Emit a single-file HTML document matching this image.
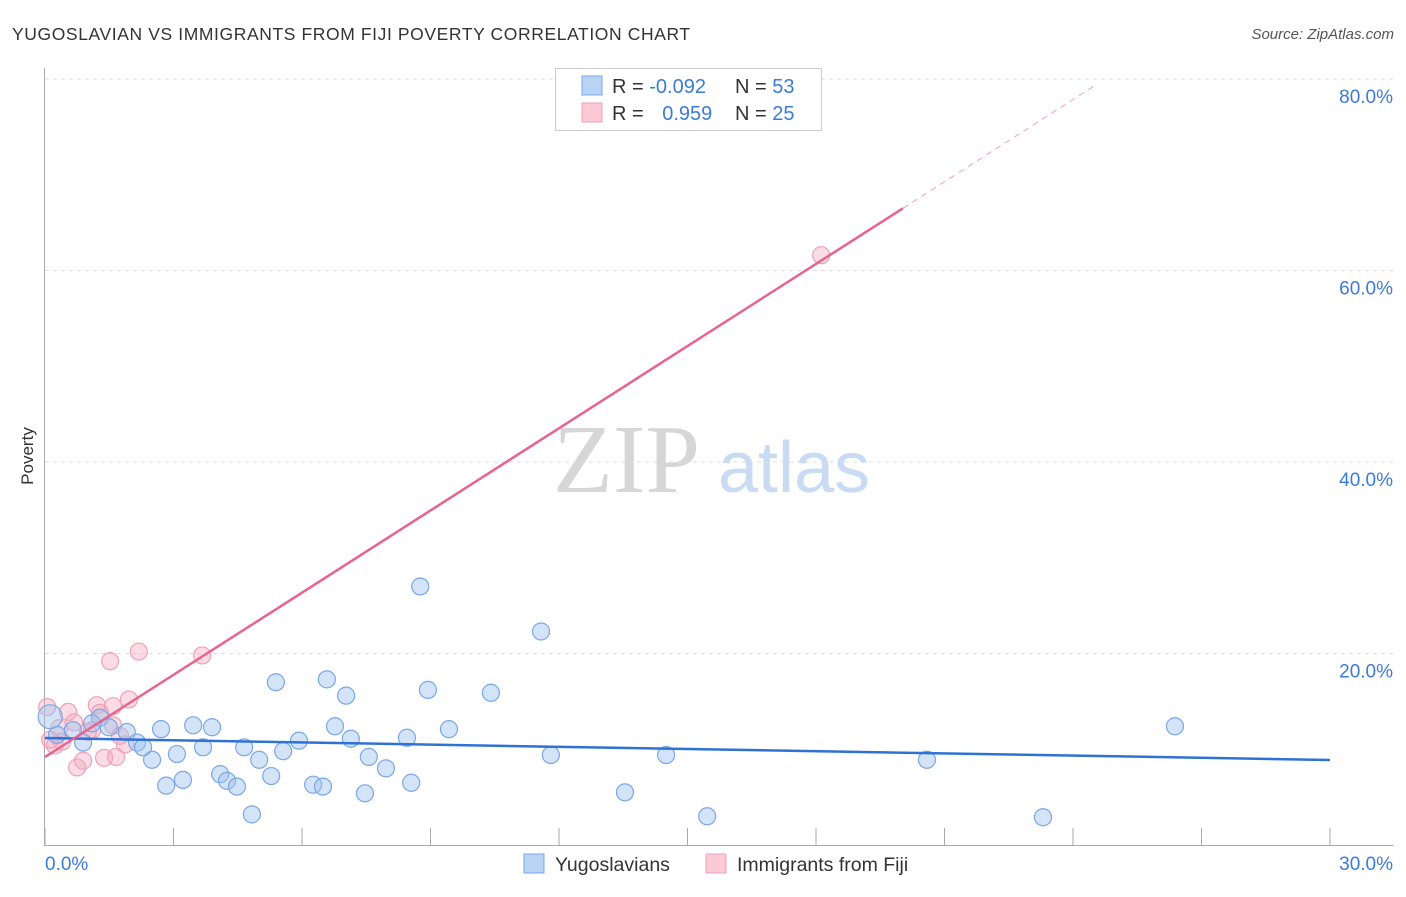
<!DOCTYPE html>
<html><head><meta charset="utf-8"><style>
body{margin:0;background:#fff;font-family:"Liberation Sans",sans-serif;}
svg text{font-family:"Liberation Sans",sans-serif;}
</style></head><body>
<svg id="chart" width="1406" height="892">
<text x="12" y="40" font-size="17.5" fill="#333" letter-spacing="0.6">YUGOSLAVIAN VS IMMIGRANTS FROM FIJI POVERTY CORRELATION CHART</text>
<text x="1394" y="39" font-size="15" fill="#555" text-anchor="end" font-style="italic">Source: ZipAtlas.com</text>
<text x="0" y="0" font-size="17" fill="#333" transform="translate(33,456) rotate(-90)" text-anchor="middle">Poverty</text>
<g>
<text x="553" y="492" font-size="98" fill="#d6d6d6" font-family="Liberation Serif" style="font-family:'Liberation Serif',serif">ZIP</text>
<text x="718" y="492" font-size="72" fill="#c9dbf3">atlas</text>
</g>
<g id="grid"></g>
<g id="axes"></g>
<g id="marks"></g>
<g>
<rect x="555.5" y="68.5" width="266" height="62" fill="#fff" stroke="#ccc"/>
<rect x="582" y="76" width="20" height="19" fill="#b9d3f5" stroke="#7aa7e6"/>
<rect x="582" y="103" width="20" height="19" fill="#fcc9d7" stroke="#f0a0b8"/>
<text x="612" y="93" font-size="20" fill="#333">R = <tspan fill="#3d7bd9">-0.092</tspan></text>
<text x="735" y="93" font-size="20" fill="#333">N = <tspan fill="#3d7bd9">53</tspan></text>
<text x="612" y="120" font-size="20" fill="#333">R = <tspan fill="#3d7bd9" dx="13">0.959</tspan></text>
<text x="735" y="120" font-size="20" fill="#333">N = <tspan fill="#3d7bd9">25</tspan></text>
</g>
<g>
<rect x="524" y="854" width="20" height="19" fill="#b9d3f5" stroke="#7aa7e6"/>
<text x="555" y="871" font-size="19.5" fill="#333">Yugoslavians</text>
<rect x="706" y="854" width="20" height="19" fill="#fcc9d7" stroke="#f0a0b8"/>
<text x="737" y="871" font-size="19.5" fill="#333">Immigrants from Fiji</text>
</g>
</svg>
<script>
const yTicks=[20,40,60,80];
const yTickLabels=["20.0%","40.0%","60.0%","80.0%"];
const xTickVals=[0,3,6,9,12,15,18,21,24,27,30];
const xEndLabels=["0.0%","30.0%"];
const blueX=[5.39,6.58,7.03,8.94,10.41,2.71,3.46,3.90,6.77,9.43,8.45,5.93,7.14,4.65,3.69,5.56,3.08,7.56,5.00,2.50,7.96,5.28,4.09,4.25,4.48,3.22,2.83,6.26,6.49,7.47,8.55,4.83,1.28,1.49,1.91,2.15,2.29,0.89,0.28,1.10,0.65,8.76,11.58,11.81,14.50,13.54,15.46,20.59,23.30,26.38,0.12];
const blueY=[17.0,17.3,15.6,16.2,15.9,12.1,12.5,12.3,12.4,12.1,11.2,10.9,11.1,10.2,10.2,9.8,9.5,9.2,8.9,8.9,8.0,7.2,7.4,6.7,6.1,6.8,6.2,6.3,6.1,5.4,6.5,3.2,13.3,12.3,11.8,10.7,10.2,10.7,11.5,12.7,12.0,27.0,22.3,9.4,9.4,5.5,3.0,8.9,2.9,12.4,13.4];
const pinkX=[18.12,1.52,2.19,3.67,0.05,0.54,0.68,1.21,1.96,1.59,0.33,1.00,1.87,1.38,1.66,0.75,0.89,1.10,0.23,0.40,1.75,1.28,0.12,1.59];
const pinkY=[61.6,19.2,20.2,19.8,14.4,13.9,12.8,14.6,15.2,14.5,12.2,11.8,10.5,9.1,9.2,8.1,8.8,12.0,10.4,10.8,11.4,13.8,11.0,12.5];
const blueTrend=[11.17,-0.0763];
const pinkTrend=[9.19,2.861];
const pinkSolidEnd=20.03, pinkDashEnd=24.5;

const NS="http://www.w3.org/2000/svg";
const X=v=>45+v*(1285/30);
const Y=v=>845-v*(766/80);
function mk(tag,attrs,parent){const e=document.createElementNS(NS,tag);for(const k in attrs)e.setAttribute(k,attrs[k]);parent.appendChild(e);return e;}
const grid=document.getElementById('grid'),axes=document.getElementById('axes'),marks=document.getElementById('marks');
yTicks.forEach((t,i)=>{
 const l=mk('line',{x1:45,x2:1393,y1:Y(t),y2:Y(t),stroke:'#ddd','stroke-dasharray':'4,4'},grid);
 
 
 const tx=mk('text',{x:1393,y:Y(t)+24,'font-size':19,fill:'#3d7bd9','text-anchor':'end'},axes);
 tx.textContent=yTickLabels[i];
 
 
});
const ya=mk('line',{x1:44.5,x2:44.5,y1:68,y2:845,stroke:'#aaa'},axes);


const xa=mk('line',{x1:44,x2:1393,y1:845.5,y2:845.5,stroke:'#aaa'},axes);


xTickVals.forEach(v=>{
 const t=mk('line',{x1:X(v),x2:X(v),y1:828,y2:845,stroke:'#aaa'},axes);
 
 
});
const xl0=mk('text',{x:45,y:870,'font-size':19,fill:'#3d7bd9'},axes);xl0.textContent=xEndLabels[0];


const xl1=mk('text',{x:1393,y:870,'font-size':19,fill:'#3d7bd9','text-anchor':'end'},axes);xl1.textContent=xEndLabels[1];



pinkX.forEach((x,i)=>{
 const c=mk('circle',{cx:X(x),cy:Y(pinkY[i]),r:8.5,fill:'rgba(246,168,190,0.4)',stroke:'#f0a0b8','stroke-width':1.2},marks);
 
 
});
blueX.forEach((x,i)=>{
 const c=mk('circle',{cx:X(x),cy:Y(blueY[i]),r:(i===blueX.length-1?12:8.5),fill:'rgba(160,196,240,0.45)',stroke:'#7aa7e6','stroke-width':1.2},marks);
 
 
});
const bl=mk('line',{x1:X(0),y1:Y(blueTrend[0]),x2:X(30),y2:Y(blueTrend[0]+blueTrend[1]*30),stroke:'#2f72d6','stroke-width':2.5},marks);


const pl=mk('line',{x1:X(0),y1:Y(pinkTrend[0]),x2:X(pinkSolidEnd),y2:Y(pinkTrend[0]+pinkTrend[1]*pinkSolidEnd),stroke:'#e8638f','stroke-width':2.5},marks);


const pd=mk('line',{x1:X(pinkSolidEnd),y1:Y(pinkTrend[0]+pinkTrend[1]*pinkSolidEnd),x2:X(pinkDashEnd),y2:Y(pinkTrend[0]+pinkTrend[1]*pinkDashEnd),stroke:'#f0a0b8','stroke-width':1,'stroke-dasharray':'6,5'},marks);


</script>
</body></html>
